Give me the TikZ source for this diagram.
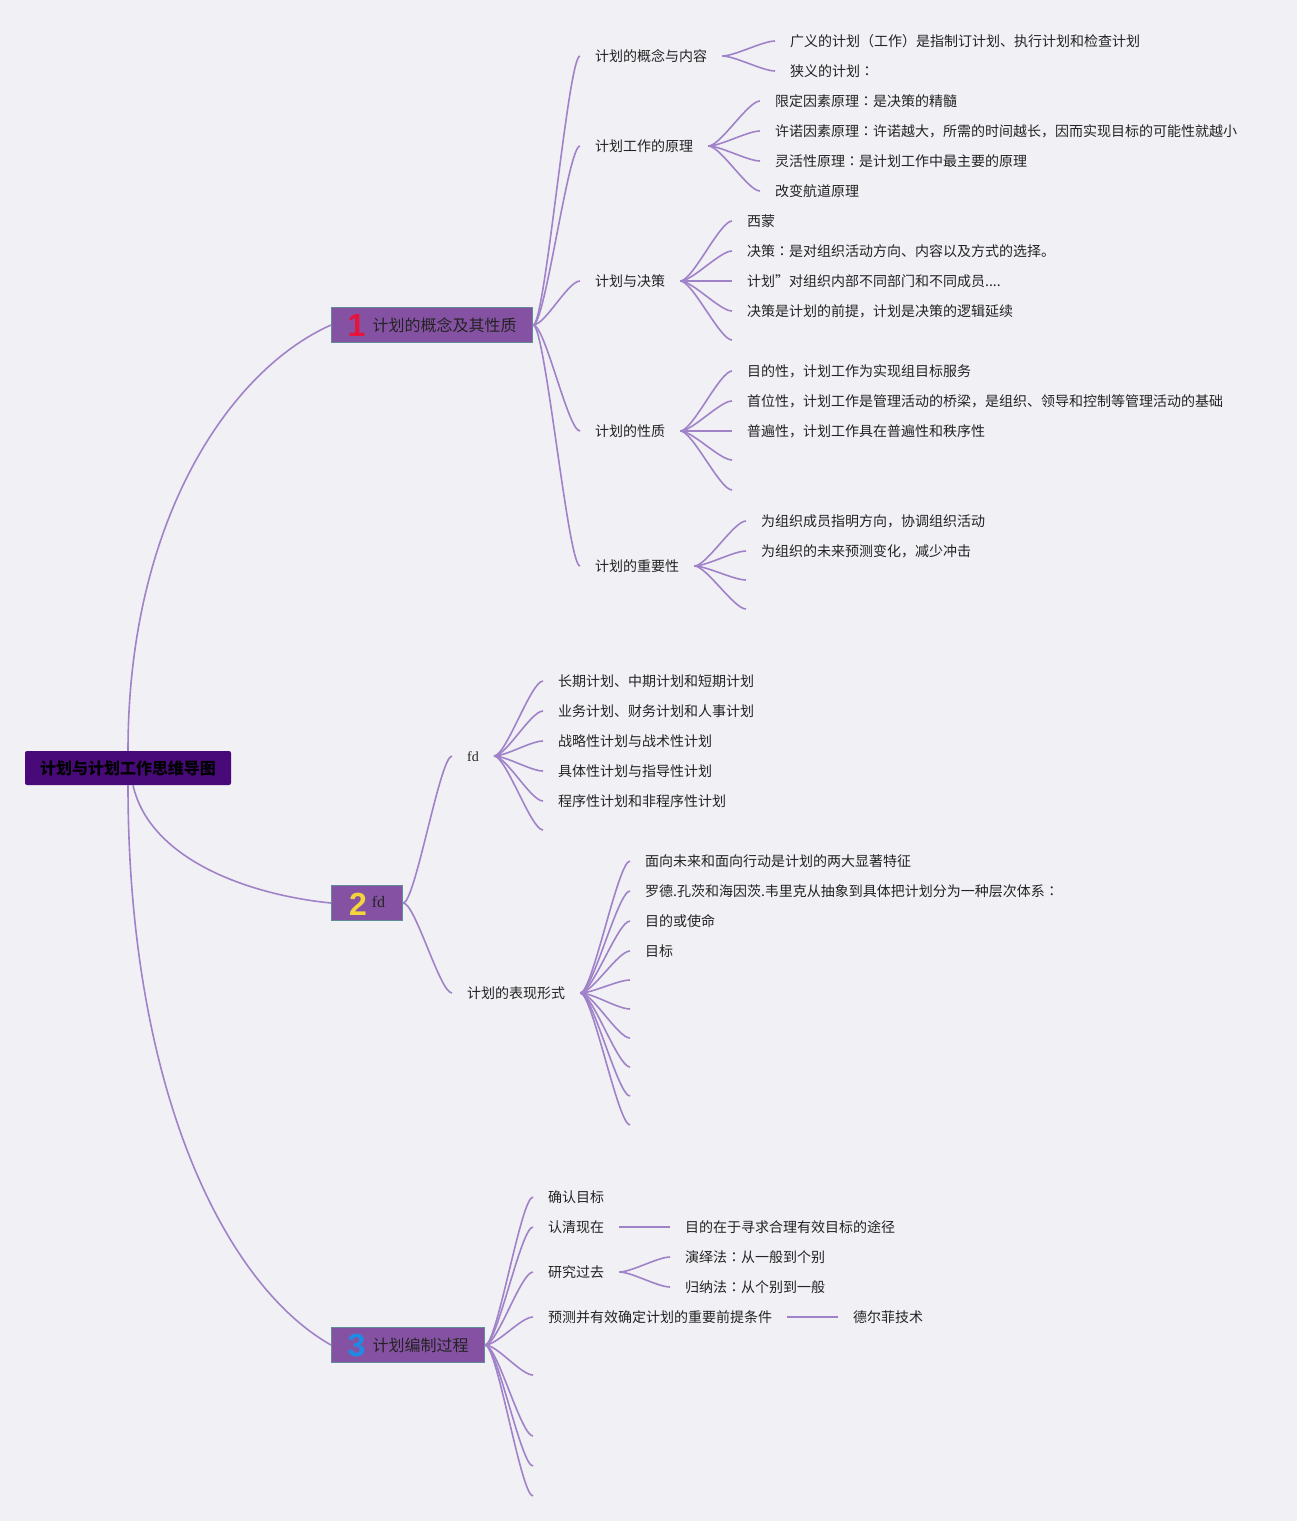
\documentclass[tikz,border=0pt]{standalone}
\usepackage{fontspec}
\usepackage{tikz}
\usetikzlibrary{calc}
\newfontfamily\cjk{Noto Sans CJK SC}
\newfontfamily\cjkjp{Noto Sans CJK JP}
\newfontfamily\numfont{Liberation Sans}
\newfontfamily\serif{Liberation Serif}
\definecolor{bgc}{RGB}{241,240,245}
\definecolor{linec}{RGB}{160,130,200}
\definecolor{rootc}{RGB}{72,10,120}
\definecolor{mainc}{RGB}{133,82,163}
\definecolor{edgec}{RGB}{95,140,150}
\definecolor{numred}{RGB}{230,20,60}
\definecolor{numyellow}{RGB}{242,212,60}
\definecolor{numblue}{RGB}{30,140,230}
\definecolor{txtc}{RGB}{35,35,35}
\newcommand{\bignum}[2]{\smash{\raisebox{-5.6pt}{\numfont\bfseries\fontsize{32}{32}\selectfont\color{#1}#2}}}
\newcommand{\zc}{{\cjkjp ：}}
\tikzset{
  topic/.style={anchor=west,inner xsep=15pt,inner ysep=2pt,text height=12pt,text depth=2pt,text=txtc,font=\cjk\fontsize{14}{16}\selectfont},
  mainbox/.style={anchor=west,fill=mainc,draw=edgec,line width=1.2pt,minimum height=35pt,inner xsep=0pt,inner ysep=0pt,text=txtc,font=\cjk\fontsize{16}{19}\selectfont},
  rootbox/.style={fill=rootc,rounded corners=2pt,minimum width=206pt,minimum height=34pt,text=black,font=\cjk\bfseries\fontsize{16}{19}\selectfont},
  link/.style={draw=linec,line width=1.6pt},
  twig/.style={to path={.. controls +(12,0) and +(-12,0) .. (\tikztotarget)}}
}
\begin{document}
\begin{tikzpicture}[x=1pt,y=-1pt]
\fill[bgc] (0,0) rectangle (1297,1521);
\useasboundingbox (0,0) rectangle (1297,1521);
\node[rootbox] (root) at (128,768) {计划与计划工作思维导图};
\node[mainbox,minimum width=201pt] (b1) at (331,325) {\bignum{numred}{1}\hspace{7pt}计划的概念及其性质};
\node[mainbox,minimum width=71pt] (b2) at (331,903) {\bignum{numyellow}{2}\hspace{5pt}\raisebox{2pt}{\serif fd}};
\node[mainbox,minimum width=153pt] (b3) at (331,1345) {\bignum{numblue}{3}\hspace{7pt}计划编制过程};
\draw[link] (root.north) .. controls +(0,-231) and +(-101,45) .. (b1.west);
\draw[link] ([xshift=5pt]root.south) .. controls +(17,75) and +(-81,-8) .. (b2.west);
\draw[link] (root.south) .. controls +(0,305) and +(-106,-60) .. (b3.west);
% 1
\foreach \nm/\t/\y in {concept/计划的概念与内容/56,principle/计划工作的原理/146,decision/计划与决策/281,nature/计划的性质/431,importance/计划的重要性/566}
  { \node[topic] (\nm) at (580,\y) {\t}; \draw[link] (b1.east) to[twig] (\nm.west); }
\foreach \t [count=\i] in {{广义的计划（工作）是指制订计划、执行计划和检查计划},{狭义的计划\zc}}
  { \node[topic] (concept\i) at (775,11+30*\i) {\t}; \draw[link] (concept.east) to[twig] (concept\i.west); }
\foreach \t [count=\i] in {{限定因素原理\zc 是决策的精髓},{许诺因素原理\zc 许诺越大，所需的时间越长，因而实现目标的可能性就越小},{灵活性原理\zc 是计划工作中最主要的原理},{改变航道原理}}
  { \node[topic] (principle\i) at (760,71+30*\i) {\t}; \draw[link] (principle.east) to[twig] (principle\i.west); }
\foreach \t [count=\i] in {{西蒙},{决策\zc 是对组织活动方向、内容以及方式的选择。},{计划”对组织内部不同部门和不同成员.{}.{}.{}.},{决策是计划的前提，计划是决策的逻辑延续}}
  { \node[topic] (decision\i) at (732,191+30*\i) {\t}; \draw[link] (decision.east) to[twig] (decision\i.west); }
\coordinate (decisionE1) at (732,340);
\draw[link] (decision.east) to[twig] (decisionE1);
\foreach \t [count=\i] in {{目的性，计划工作为实现组目标服务},{首位性，计划工作是管理活动的桥梁，是组织、领导和控制等管理活动的基础},{普遍性，计划工作具在普遍性和秩序性}}
  { \node[topic] (nature\i) at (732,341+30*\i) {\t}; \draw[link] (nature.east) to[twig] (nature\i.west); }
\foreach \y [count=\i] in {460,490}
  { \coordinate (natureE\i) at (732,\y); \draw[link] (nature.east) to[twig] (natureE\i); }
\foreach \t [count=\i] in {{为组织成员指明方向，协调组织活动},{为组织的未来预测变化，减少冲击}}
  { \node[topic] (importance\i) at (746,491+30*\i) {\t}; \draw[link] (importance.east) to[twig] (importance\i.west); }
\foreach \y [count=\i] in {580,609}
  { \coordinate (importanceE\i) at (746,\y); \draw[link] (importance.east) to[twig] (importanceE\i); }
% 2
\node[topic,font=\serif\fontsize{14}{16}\selectfont] (types) at (452,756) {fd};
\node[topic] (forms) at (452,993) {计划的表现形式};
\draw[link] (b2.east) to[twig] (types.west);
\draw[link] (b2.east) to[twig] (forms.west);
\foreach \t [count=\i] in {{长期计划、中期计划和短期计划},{业务计划、财务计划和人事计划},{战略性计划与战术性计划},{具体性计划与指导性计划},{程序性计划和非程序性计划}}
  { \node[topic] (types\i) at (543,651+30*\i) {\t}; \draw[link] (types.east) to[twig] (types\i.west); }
\coordinate (typesE1) at (543,830);
\draw[link] (types.east) to[twig] (typesE1);
\foreach \t [count=\i] in {{面向未来和面向行动是计划的两大显著特征},{罗德.孔茨和海因茨.韦里克从抽象到具体把计划分为一种层次体系\zc},{目的或使命},{目标}}
  { \node[topic] (forms\i) at (630,831+30*\i) {\t}; \draw[link] (forms.east) to[twig] (forms\i.west); }
\foreach \y [count=\i] in {980,1009,1038,1067,1096,1125}
  { \coordinate (formsE\i) at (630,\y); \draw[link] (forms.east) to[twig] (formsE\i); }
% 3
\foreach \nm/\t/\y in {confirm/确认目标/1197,present/认清现在/1227,past/研究过去/1272,predict/预测并有效确定计划的重要前提条件/1317}
  { \node[topic] (\nm) at (533,\y) {\t}; \draw[link] (b3.east) to[twig] (\nm.west); }
\foreach \y [count=\i] in {1375,1436,1466,1496}
  { \coordinate (processE\i) at (533,\y); \draw[link] (b3.east) to[twig] (processE\i); }
\node[topic] (route) at (670,1227) {目的在于寻求合理有效目标的途径};
\draw[link] (present) -- (route);
\node[topic] (deduce) at (670,1257) {演绎法\zc 从一般到个别};
\node[topic] (induce) at (670,1287) {归纳法\zc 从个别到一般};
\draw[link] (past.east) to[twig] (deduce.west);
\draw[link] (past.east) to[twig] (induce.west);
\node[topic] (delphi) at (838,1317) {德尔菲技术};
\draw[link] (predict) -- (delphi);
\end{tikzpicture}
\end{document}
